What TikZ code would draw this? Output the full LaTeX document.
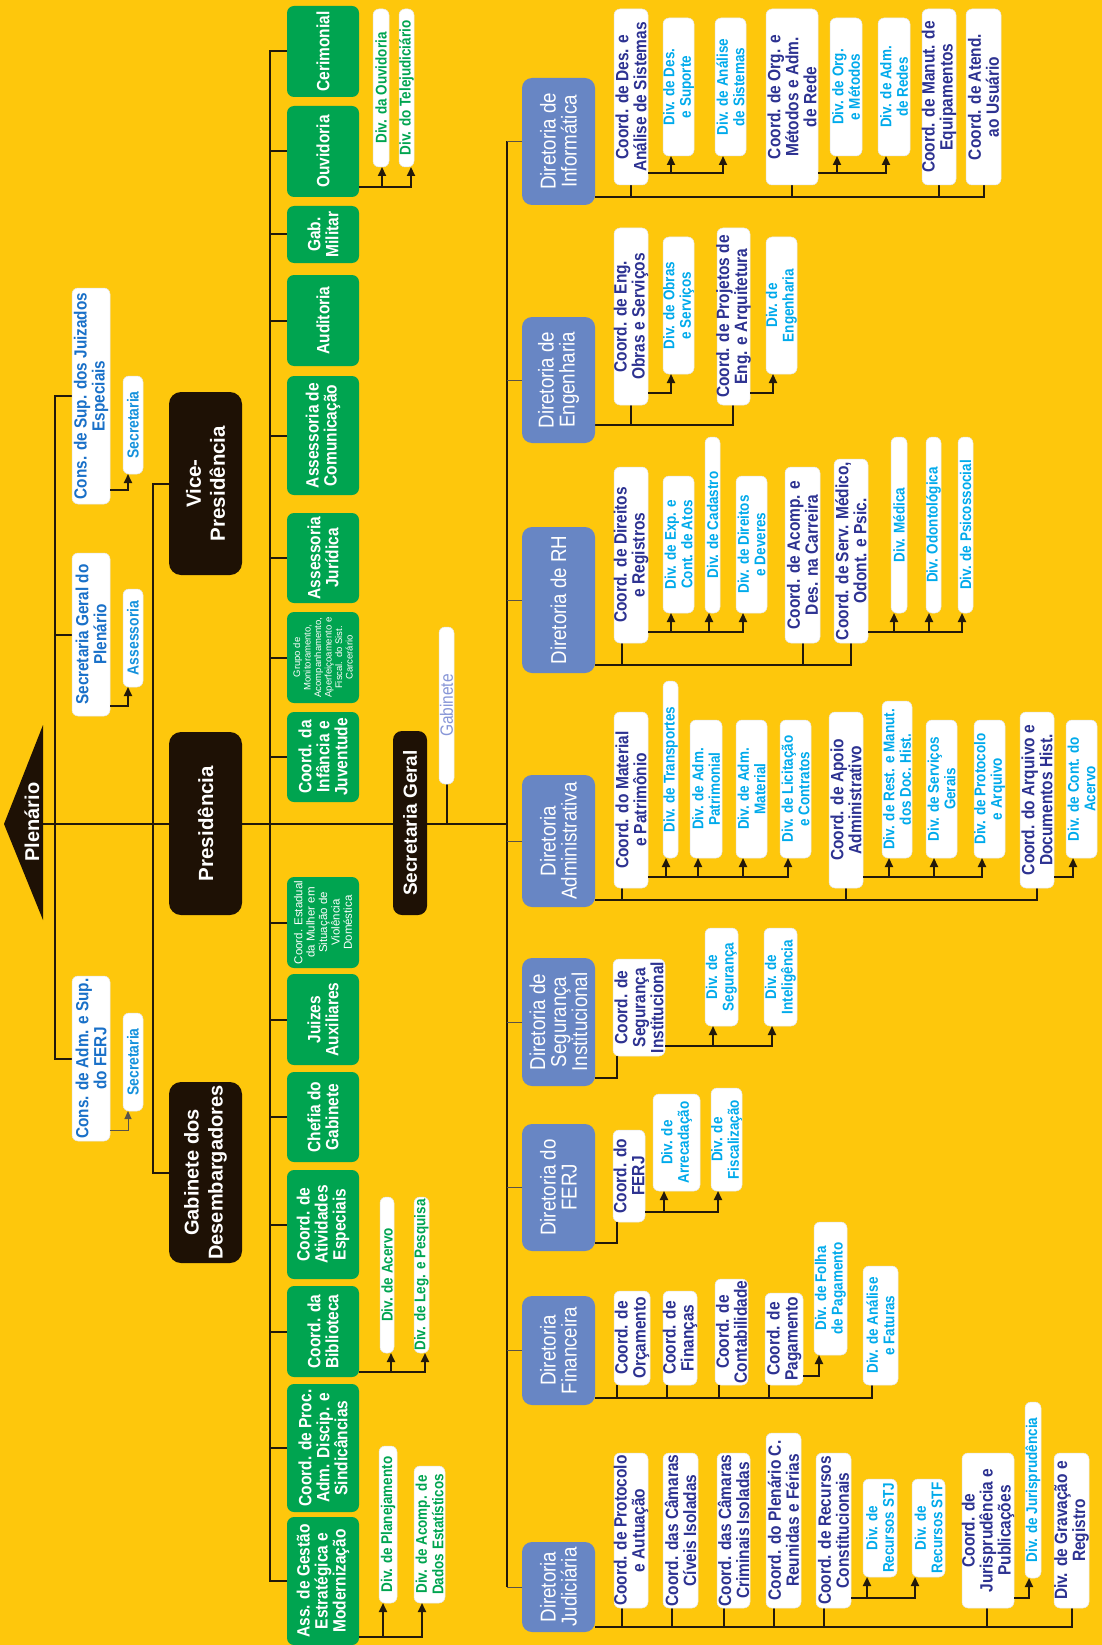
\documentclass[tikz,border=0pt]{standalone}
\usepackage{fontspec}
\setmainfont{Liberation Sans}
\newfontfamily\cf[FakeStretch=0.87]{Liberation Sans}
\usetikzlibrary{arrows.meta}
\definecolor{bgc}{RGB}{254,199,12}
\definecolor{grn}{RGB}{0,164,80}
\definecolor{dkc}{RGB}{30,17,5}
\definecolor{dirc}{RGB}{104,134,196}
\definecolor{navc}{RGB}{45,50,145}
\definecolor{cyc}{RGB}{0,170,235}
\definecolor{consc}{RGB}{25,112,200}
\definecolor{secc}{RGB}{20,145,220}
\definecolor{gabc}{RGB}{135,150,215}
\definecolor{lnc}{RGB}{35,25,10}
\pgfdeclarelayer{back}\pgfdeclarelayer{lines}\pgfsetlayers{back,lines,main}
\tikzset{
 ln/.style={line width=2pt, draw=lnc},
 tln/.style={line width=1pt, draw=lnc!75},
 arr/.style={ln, -{Triangle[width=8pt,length=9pt]}},
 tarr/.style={tln, -{Triangle[width=7pt,length=8pt]}},
 bxbase/.style={rotate=90, align=center, inner sep=0pt, outer sep=0pt},
 gbox/.style={bxbase, inner ysep=-2pt, fill=grn, text=white, rounded corners=7pt, font=\cf\bfseries\fontsize{17.8}{18}\selectfont},
 dbox/.style={bxbase, fill=dkc, text=white, rounded corners=12pt, font=\bfseries\fontsize{20.5}{24}\selectfont},
 rbox/.style={bxbase, fill=dirc, text=white, rounded corners=10pt, font=\cf\fontsize{21.5}{21}\selectfont},
 wbox/.style={bxbase, inner ysep=-2pt, fill=white, draw=black!10, line width=0.5pt, rounded corners=6pt},
 cbox/.style={wbox, text=navc, font=\cf\bfseries\fontsize{17.8}{18}\selectfont},
 vbox/.style={wbox, text=cyc, font=\cf\bfseries\fontsize{15.5}{16.5}\selectfont},
 gvbox/.style={wbox, text=grn, font=\cf\bfseries\fontsize{15.5}{16.5}\selectfont},
 kbox/.style={wbox, text=consc, font=\cf\bfseries\fontsize{17.6}{18}\selectfont},
 sbox/.style={wbox, text=secc, font=\cf\bfseries\fontsize{16}{16}\selectfont},
}
\newcommand\bx[7]{\node[#1,minimum width={#6-#4},minimum height={#5-#3}] (#2) at ({(#3+#5)/2},{(#4+#6)/2}) {#7};}
\newcommand\ar[4]{\draw[arr] (#1.south west) ++(0,#2) -| ([xshift=#4pt]#3.north west);}
\newcommand\dr[3]{\draw[ln] ([xshift=#3pt]#1.north west) coordinate (tmpd) -- (tmpd |- #2);}
\begin{document}
\begin{tikzpicture}[x=1pt,y=-1pt]
\useasboundingbox (0,0) rectangle (1102,1645);
\begin{pgfonlayer}{back}
\fill[bgc] (0,0) rectangle (1102,1645);
\end{pgfonlayer}

% ---- Plenario
\fill[dkc] (43,725) -- (4,824) -- (43,920) -- cycle;
\node[bxbase, text=white, font=\bfseries\fontsize{20}{22}\selectfont] (plen) at (32,822) {Plenário};
\coordinate (mL) at (43,824);
\coordinate (mR) at (507,824);

% ---- Conselhos
\bx{kbox}{consSup}{72}{288}{110}{504}{Cons. de Sup. dos Juizados\\Especiais}
\bx{kbox}{secGP}{72}{553}{110}{716}{Secretaria Geral do\\Plenário}
\bx{kbox}{consAdm}{72}{976}{110}{1141}{Cons. de Adm. e Sup.\\do FERJ}
\bx{sbox}{sec1}{123}{376}{143}{474}{Secretaria}
\bx{sbox}{ass1}{123}{589}{143}{687}{Assessoria}
\bx{sbox}{sec2}{123}{1013}{143}{1111}{Secretaria}

% ---- dark boxes
\bx{dbox}{vice}{169}{392}{242}{575}{Vice-\\Presidência}
\bx{dbox}{pres}{169}{732}{242}{915}{Presidência}
\bx{dbox,font=\bfseries\fontsize{20}{24}\selectfont}{gdes}{169}{1082}{242}{1263}{Gabinete dos\\Desembargadores}
\bx{dbox,font=\bfseries\fontsize{19}{22}\selectfont,rounded corners=9pt}{secg}{393}{731}{427}{915}{Secretaria Geral}
\bx{wbox,text=gabc,font=\cf\fontsize{17.8}{17}\selectfont}{gabS}{439}{627}{454}{784}{Gabinete}

% ---- green boxes
\bx{gbox}{cer}{287}{6}{359}{97}{Cerimonial}
\bx{gbox}{ouv}{287}{106}{359}{197}{Ouvidoria}
\bx{gbox}{gmil}{287}{206}{359}{263}{Gab.\\Militar}
\bx{gbox}{aud}{287}{275}{359}{366}{Auditoria}
\bx{gbox}{acom}{287}{376}{359}{495}{Assessoria de\\Comunicação}
\bx{gbox}{ajur}{287}{513}{359}{603}{Assessoria\\Jurídica}
\bx{gbox,font=\fontsize{9.5}{10.5}\selectfont}{grupo}{287}{612}{359}{703}{Grupo de\\Monitoramento,\\Acompanhamento,\\Aperfeiçoamento e\\Fiscal. do Sist.\\Carcerário}
\bx{gbox}{infj}{287}{712}{359}{802}{Coord. da\\Infância e\\Juventude}
\bx{gbox,font=\fontsize{11.5}{12.4}\selectfont}{mul}{287}{877}{359}{968}{Coord. Estadual\\da Mulher em\\Situação de\\Violência\\Doméstica}
\bx{gbox}{jui}{287}{974}{359}{1065}{Juizes\\Auxiliares}
\bx{gbox}{che}{287}{1072}{359}{1162}{Chefia do\\Gabinete}
\bx{gbox}{ati}{287}{1170}{359}{1279}{Coord. de\\Atividades\\Especiais}
\bx{gbox}{bib}{287}{1286}{359}{1377}{Coord. da\\Biblioteca}
\bx{gbox}{proc}{287}{1384}{359}{1512}{Coord. de Proc.\\Adm. Discip. e\\Sindicâncias}
\bx{gbox}{gest}{287}{1517}{359}{1645}{Ass. de Gestão\\Estratégica e\\Modernização}

% green divisions
\bx{gvbox}{divOuv}{373}{9}{389}{167}{Div. da Ouvidoria}
\bx{gvbox}{divTel}{399}{9}{414}{167}{Div. do Telejudiciário}
\bx{gvbox}{divAce}{380}{1197}{394}{1353}{Div. de Acervo}
\bx{gvbox}{divLeg}{414}{1197}{429}{1353}{Div. de Leg. e Pesquisa}
\bx{gvbox}{divPla}{379}{1446}{397}{1603}{Div. de Planejamento}
\bx{gvbox}{divAco}{414}{1466}{445}{1603}{Div. de Acomp. de\\Dados Estatísticos}

% ---- Diretorias
\bx{rbox}{rI}{522}{78}{595}{205}{Diretoria de\\Informática}
\bx{rbox}{rE}{522}{317}{595}{443}{Diretoria de\\Engenharia}
\bx{rbox}{rR}{522}{527}{595}{673}{Diretoria de RH}
\bx{rbox}{rA}{522}{775}{595}{907}{Diretoria\\Administrativa}
\bx{rbox}{rS}{522}{958}{595}{1086}{Diretoria de\\Segurança\\Institucional}
\bx{rbox}{rF}{522}{1124}{595}{1251}{Diretoria do\\FERJ}
\bx{rbox}{rN}{522}{1296}{595}{1405}{Diretoria\\Financeira}
\bx{rbox}{rJ}{522}{1542}{595}{1632}{Diretoria\\Judiciária}

% Informatica
\bx{cbox}{cI1}{614}{9}{648}{185}{Coord. de Des. e\\Análise de Sistemas}
\bx{vbox}{dI1}{663}{18}{694}{156}{Div. de Des.\\e Suporte}
\bx{vbox}{dI2}{715}{18}{746}{156}{Div. de Análise\\de Sistemas}
\bx{cbox}{cI2}{766}{9}{818}{185}{Coord. de Org. e\\Métodos e Adm.\\de Rede}
\bx{vbox}{dI3}{830}{18}{862}{156}{Div. de Org.\\e Métodos}
\bx{vbox}{dI4}{878}{18}{910}{156}{Div. de Adm.\\de Redes}
\bx{cbox}{cI3}{922}{9}{956}{185}{Coord. de Manut. de\\Equipamentos}
\bx{cbox}{cI4}{966}{9}{1001}{185}{Coord. de Atend.\\ao Usuário}
% Engenharia
\bx{cbox}{cE1}{614}{228}{648}{405}{Coord. de Eng.\\Obras e Serviços}
\bx{vbox}{dE1}{663}{237}{694}{374}{Div. de Obras\\e Serviços}
\bx{cbox}{cE2}{717}{228}{750}{405}{Coord. de Projetos de\\Eng. e Arquitetura}
\bx{vbox}{dE2}{766}{237}{797}{374}{Div. de\\Engenharia}
% RH
\bx{cbox}{cR1}{614}{467}{648}{643}{Coord. de Direitos\\e Registros}
\bx{vbox}{dR1}{663}{476}{694}{613}{Div. de Exp. e\\Cont. de Atos}
\bx{vbox}{dR2}{705}{437}{720}{613}{Div. de Cadastro}
\bx{vbox}{dR3}{736}{476}{767}{613}{Div. de Direitos\\e Deveres}
\bx{cbox}{cR2}{785}{467}{820}{643}{Coord. de Acomp. e\\Des. na Carreira}
\bx{cbox}{cR3}{834}{459}{868}{643}{Coord. de Serv. Médico,\\Odont. e Psic.}
\bx{vbox}{dR4}{891}{437}{907}{613}{Div. Médica}
\bx{vbox}{dR5}{926}{437}{941}{613}{Div. Odontológica}
\bx{vbox}{dR6}{958}{437}{973}{613}{Div. de Psicossocial}
% Administrativa
\bx{cbox}{cA1}{614}{712}{648}{888}{Coord. do Material\\e Patrimônio}
\bx{vbox}{dA1}{663}{681}{678}{858}{Div. de Transportes}
\bx{vbox}{dA2}{690}{720}{722}{858}{Div. de Adm.\\Patrimonial}
\bx{vbox}{dA3}{736}{720}{767}{858}{Div. de Adm.\\Material}
\bx{vbox}{dA4}{780}{720}{811}{858}{Div. de Licitação\\e Contratos}
\bx{cbox}{cA2}{829}{712}{863}{888}{Coord. de Apoio\\Administrativo}
\bx{vbox}{dA5}{882}{701}{912}{858}{Div. de Rest. e Manut.\\dos Doc. Hist.}
\bx{vbox}{dA6}{926}{720}{957}{858}{Div. de Serviços\\Gerais}
\bx{vbox}{dA7}{974}{720}{1005}{858}{Div. de Protocolo\\e Arquivo}
\bx{cbox}{cA3}{1020}{712}{1054}{888}{Coord. do Arquivo e\\Documentos Hist.}
\bx{vbox}{dA8}{1066}{720}{1097}{858}{Div. de Cont. do\\Acervo}
% Seguranca
\bx{cbox}{cS1}{613}{959}{665}{1056}{Coord. de\\Segurança\\Institucional}
\bx{vbox}{dS1}{705}{928}{738}{1026}{Div. de\\Segurança}
\bx{vbox}{dS2}{764}{928}{797}{1026}{Div. de\\Inteligência}
% FERJ
\bx{cbox}{cF1}{613}{1130}{645}{1222}{Coord. do\\FERJ}
\bx{vbox}{dF1}{653}{1094}{700}{1191}{Div. de\\Arrecadação}
\bx{vbox}{dF2}{711}{1088}{742}{1191}{Div. de\\Fiscalização}
% Financeira
\bx{cbox}{cN1}{614}{1291}{650}{1385}{Coord. de\\Orçamento}
\bx{cbox}{cN2}{663}{1291}{697}{1385}{Coord. de\\Finanças}
\bx{cbox}{cN3}{715}{1279}{748}{1385}{Coord. de\\Contabilidade}
\bx{cbox}{cN4}{765}{1293}{803}{1385}{Coord. de\\Pagamento}
\bx{vbox}{dN1}{814}{1222}{847}{1355}{Div. de Folha\\de Pagamento}
\bx{vbox}{dN2}{863}{1266}{898}{1385}{Div. de Análise\\e Faturas}
% Judiciaria
\bx{cbox}{cJ1}{614}{1453}{648}{1608}{Coord. de Protocolo\\e Autuação}
\bx{cbox}{cJ2}{663}{1453}{698}{1608}{Coord. das Câmaras\\Cíveis Isoladas}
\bx{cbox}{cJ3}{717}{1453}{750}{1608}{Coord. das Câmaras\\Criminais Isoladas}
\bx{cbox}{cJ4}{766}{1433}{801}{1608}{Coord. do Plenário C.\\Reunidas e Férias}
\bx{cbox}{cJ5}{816}{1453}{851}{1608}{Coord. de Recursos\\Constitucionais}
\bx{vbox}{dJ1}{863}{1479}{897}{1577}{Div. de\\Recursos STJ}
\bx{vbox}{dJ2}{912}{1479}{945}{1577}{Div. de\\Recursos STF}
\bx{cbox}{cJ6}{962}{1453}{1014}{1608}{Coord. de\\Jurisprudência e\\Publicações}
\bx{vbox}{dJ3}{1025}{1402}{1041}{1578}{Div. de Jurisprudência}
\bx{cbox}{cJ7}{1054}{1453}{1089}{1608}{Div. de Gravação e\\Registro}

% ================= connectors
\begin{pgfonlayer}{lines}
\coordinate (lbx) at (55,0);
\coordinate (vbx) at (153,0);
\coordinate (gbx) at (270,0);
\coordinate (dbx) at (507,0);
\draw[ln] (mL) -- (mR);
% left bus
\draw[ln] (consSup.north) -- (consSup.north -| lbx) -- (consAdm.north -| lbx) -- (consAdm.north);
\draw[ln] (secGP.north) -- (secGP.north -| lbx);
% vice / gabinete bus
\draw[ln] (vice.north) -- (vice.north -| vbx) -- (gdes.north -| vbx) -- (gdes.north);
% green bus
\draw[ln] (cer.north) -- (cer.north -| gbx) -- (gest.north -| gbx) -- (gest.north);
\foreach \n in {ouv,gmil,aud,acom,ajur,grupo,infj,mul,jui,che,ati,bib,proc}
  {\draw[ln] (\n.north) -- (\n.north -| gbx);}
% gabinete of secretaria geral
\draw[ln] (gabS.west) -- (gabS.west |- mL);
% diretoria bus
\draw[ln] (rI.north -| dbx) -- (rJ.north -| dbx);
\foreach \n in {rI,rE,rR,rA,rS,rF,rN,rJ}
  {\draw[tln] (\n.north) -- (\n.north -| dbx);}
% bus rows
\coordinate (busI) at (0,197);
\coordinate (busE) at (0,425);
\coordinate (busR) at (0,665);
\coordinate (busA) at (0,900);
\coordinate (busN) at (0,1398);
\coordinate (busJ) at (0,1627);
\draw[ln] (rI.south |- busI) -| ([xshift=18pt]cI4.north west);
\dr{cI1}{busI}{17}\dr{cI2}{busI}{26}\dr{cI3}{busI}{17}
\draw[ln] (rE.south |- busE) -| ([xshift=16pt]cE2.north west);
\dr{cE1}{busE}{17}
\draw[ln] (rR.south |- busR) -| ([xshift=17pt]cR3.north west);
\dr{cR1}{busR}{8}\dr{cR2}{busR}{18}
\draw[ln] (rA.south |- busA) -| ([xshift=17pt]cA3.north west);
\dr{cA1}{busA}{8}\dr{cA2}{busA}{17}
\draw[ln] (rN.south |- busN) -| ([xshift=9pt]dN2.north west);
\dr{cN1}{busN}{3}\dr{cN2}{busN}{4}\dr{cN3}{busN}{4}\dr{cN4}{busN}{4}
\draw[ln] (rJ.south |- busJ) -| ([xshift=18pt]cJ7.north west);
\dr{cJ1}{busJ}{8}\dr{cJ2}{busJ}{9}\dr{cJ3}{busJ}{7}\dr{cJ4}{busJ}{8}\dr{cJ5}{busJ}{8}\dr{cJ6}{busJ}{25}
\coordinate (sgJ) at (617,1078);
\draw[ln] (rS.south |- sgJ) -| ([xshift=4pt]cS1.north west);
\coordinate (frJ) at (617,1243);
\draw[ln] (rF.south |- frJ) -| ([xshift=4pt]cF1.north west);
\end{pgfonlayer}

% arrows
\ar{consSup}{-14}{sec1}{5}
\ar{secGP}{-10}{ass1}{5}
\draw[tarr] (consAdm.south west) ++(0,-11) -| ([xshift=5pt]sec2.north west);
\ar{ouv}{-10}{divOuv}{9}
\ar{ouv}{-10}{divTel}{12}
\ar{bib}{-5}{divAce}{11}
\ar{bib}{-5}{divLeg}{11}
\ar{gest}{-8}{divPla}{4}
\ar{gest}{-8}{divAco}{8}
\ar{cI1}{-12}{dI1}{8}\ar{cI1}{-12}{dI2}{8}
\ar{cI2}{-12}{dI3}{7}\ar{cI2}{-12}{dI4}{8}
\ar{cE1}{-12}{dE1}{8}\ar{cE2}{-12}{dE2}{7}
\ar{cR1}{-11}{dR1}{8}\ar{cR1}{-11}{dR2}{4}\ar{cR1}{-11}{dR3}{7}
\ar{cR3}{-11}{dR4}{3}\ar{cR3}{-11}{dR5}{3}\ar{cR3}{-11}{dR6}{4}
\ar{cA1}{-11}{dA1}{3}\ar{cA1}{-11}{dA2}{8}\ar{cA1}{-11}{dA3}{7}\ar{cA1}{-11}{dA4}{8}
\ar{cA2}{-11}{dA5}{7}\ar{cA2}{-11}{dA6}{8}\ar{cA2}{-11}{dA7}{8}
\ar{cA3}{-11}{dA8}{7}
\ar{cS1}{-10}{dS1}{8}\ar{cS1}{-10}{dS2}{8}
\ar{cF1}{-10}{dF1}{11}\ar{cF1}{-10}{dF2}{7}
\ar{cN4}{-9}{dN1}{5}
\ar{cJ5}{-10}{dJ1}{4}\ar{cJ5}{-10}{dJ2}{3}
\ar{cJ6}{-10}{dJ3}{4}
\end{tikzpicture}
\end{document}
